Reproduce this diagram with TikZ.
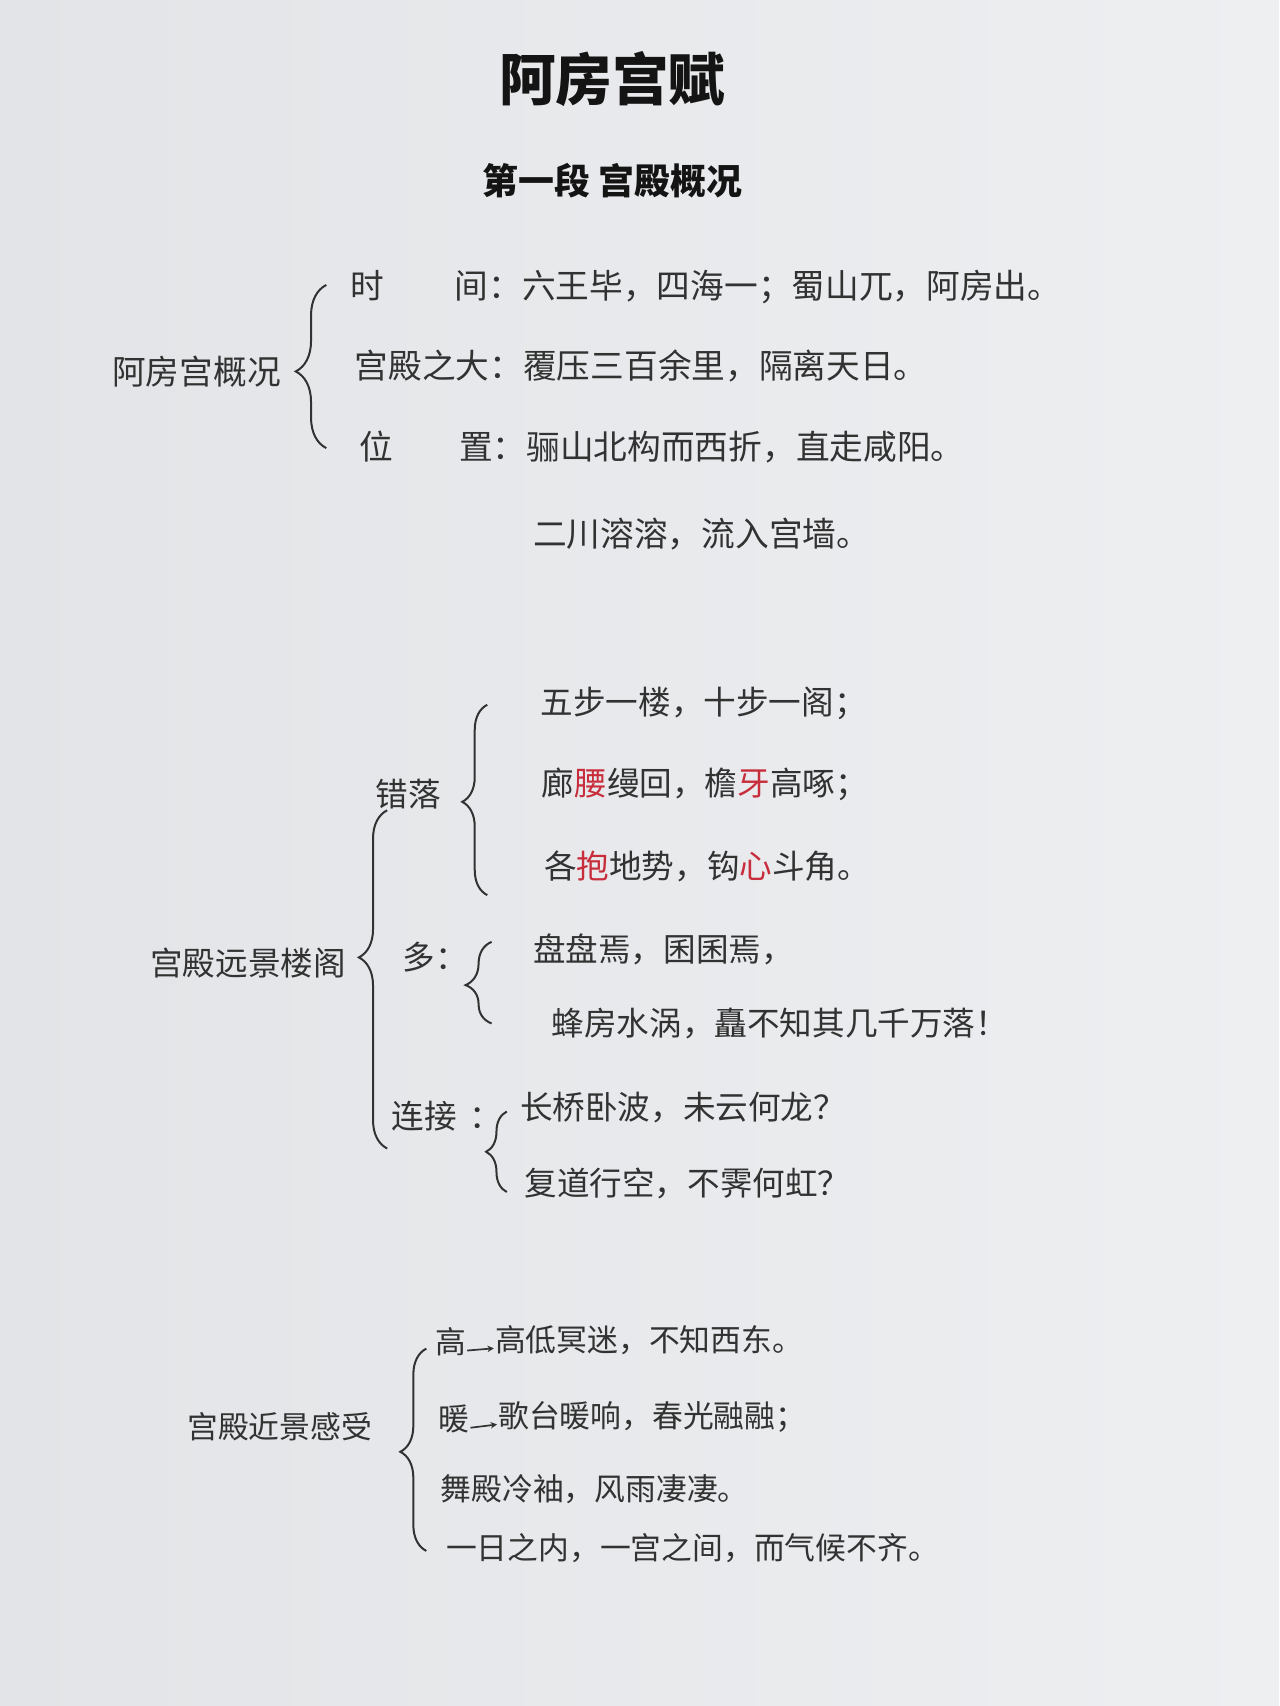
\documentclass[tikz,border=0pt]{standalone}
\usepackage{fontspec}
\setmainfont{Noto Sans CJK SC}
\usetikzlibrary{decorations.pathreplacing,arrows.meta}
\definecolor{bgl}{RGB}{226,228,231}
\definecolor{bgr}{RGB}{238,239,241}
\definecolor{ink}{RGB}{50,50,50}
\definecolor{titleink}{RGB}{20,20,20}
\definecolor{redink}{RGB}{200,45,60}
\begin{document}
\begin{tikzpicture}[x=1.0876pt,y=-1.0876pt,
  txt/.style={anchor=west,inner sep=0pt,text=ink,text height=0.8em,text depth=0.17em,yshift=-9.5pt},
  sa/.style={txt,font=\fontsize{33.7}{40}\selectfont},
  sb/.style={txt,font=\fontsize{32.6}{39}\selectfont},
  sc/.style={txt,font=\fontsize{30.8}{37}\selectfont},
  bracel/.style={draw=ink,line width=2pt,decorate,decoration={brace,amplitude=#1}},
  arr/.style={draw=ink,line width=1.7pt,-{Stealth[length=6.5pt,width=6.5pt]}}
]
\shade[left color=bgl,right color=bgr] (0,0) rectangle (1176,1568.6);
\useasboundingbox (0,0) rectangle (1176,1568.6);

% titles
\node[inner sep=0pt,text=titleink,font=\fontsize{56.6}{64}\selectfont\bfseries] (title) at (563,73) {阿房宫赋};
\node[inner sep=0pt,text=titleink,font=\fontsize{35.9}{42}\selectfont\bfseries] (sub) at (563,166) {第一段\hspace{8.7pt}宫殿概况};

% section 1
\node[sa] (s1) at (103,342) {阿房宫概况};
\node[sa] (s1a) at (322,263) {时\hspace{70.7pt}间：六王毕，四海一；蜀山兀，阿房出。};
\node[sa] (s1b) at (326,336) {宫殿之大：覆压三百余里，隔离天日。};
\node[sa] (s1c) at (330,411) {位\hspace{66.3pt}置：骊山北构而西折，直走咸阳。};
\node[sa] (s1d) at (490,491) {二川溶溶，流入宫墙。};
\coordinate (b1t) at (300,262);
\coordinate (b1b) at (300,412);
\draw[bracel=30.5pt,decoration={aspect=0.47}] (b1b) -- (b1t);

% section 2
\node[sb] (s2) at (138,885) {宫殿远景楼阁};
\node[sb] (cl) at (345,730) {错落};
\node[sb] (l1) at (497,645) {五步一楼，十步一阁；};
\node[sb] (l2) at (498,720) {廊{\color{redink}腰}缦回，檐{\color{redink}牙}高啄；};
\node[sb] (l3) at (500,796) {各{\color{redink}抱}地势，钩{\color{redink}心}斗角。};
\node[sb] (duo) at (370,880) {多：};
\node[sb] (l4) at (490,872) {盘盘焉，囷囷焉，};
\node[sb] (l5) at (507,940) {蜂房水涡，矗不知其几千万落！};
\node[sb] (lj) at (360,1026) {连接\hspace{13pt}：};
\node[sb] (l6) at (478,1018) {长桥卧波，未云何龙？};
\node[sb] (l7) at (482,1088) {复道行空，不霁何虹？};
\coordinate (b2t) at (356,745);
\coordinate (b2b) at (356,1056);
\draw[bracel=28.3pt,decoration={aspect=0.565}] (b2b) -- (b2t);
\coordinate (b3t) at (448,648);
\coordinate (b3b) at (448,823);
\draw[bracel=25pt,decoration={aspect=0.49}] (b3b) -- (b3t);
\coordinate (b4t) at (452,866);
\coordinate (b4b) at (452,941);
\draw[bracel=26pt,decoration={aspect=0.47}] (b4b) -- (b4t);
\coordinate (b5t) at (466,1022);
\coordinate (b5b) at (466,1096);
\draw[bracel=20.7pt,decoration={aspect=0.5}] (b5b) -- (b5t);

% section 3
\node[sc] (s3) at (172,1311) {宫殿近景感受};
\node[sc] (g1) at (400,1233) {高};
\node[sc] (t1) at (455,1231) {高低冥迷，不知西东。};
\node[sc] (g2) at (403,1304) {暖};
\node[sc] (t2) at (458,1301) {歌台暖响，春光融融；};
\node[sc] (t3) at (405,1368) {舞殿冷袖，风雨凄凄。};
\node[sc] (t4) at (410,1422) {一日之内，一宫之间，而气候不齐。};
\draw[arr] ([xshift=1pt]g1.east) -- ([xshift=-1pt]t1.west);
\draw[arr] ([xshift=1pt]g2.east) -- ([xshift=-1pt]t2.west);
\coordinate (b6t) at (392,1240);
\coordinate (b6b) at (392,1426);
\draw[bracel=26pt,decoration={aspect=0.49}] (b6b) -- (b6t);
\end{tikzpicture}
\end{document}
